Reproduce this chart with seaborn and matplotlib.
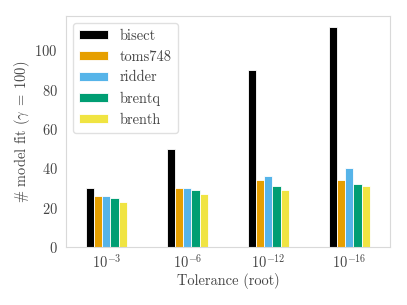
import pandas as pd
import matplotlib
matplotlib.use("Agg")
import matplotlib.pyplot as plt
import seaborn as sns

# Dados
tolerancias = [r"$10^{-3}$", r"$10^{-6}$", r"$10^{-12}$", r"$10^{-16}$"]
metodos = ["bisect", "toms748", "ridder", "brentq", "brenth"]
bisect = [30, 50, 90, 112]
toms748 = [26, 30, 34, 34]
ridder = [26, 30, 36, 40]
brentq = [25, 29, 31, 32]
brenth = [23, 27, 29, 31]
cores = ["#000000", "#E69F00", "#56B4E9", "#009E73", "#F0E442"]

valores = {"bisect": bisect, "toms748": toms748, "ridder": ridder,
           "brentq": brentq, "brenth": brenth}
linhas = []
for m in metodos:
    for t, v in zip(tolerancias, valores[m]):
        linhas.append({"tol": t, "metodo": m, "n": v})
df = pd.DataFrame(linhas)

sns.set_style("white")
plt.rcParams["font.family"] = ["cmr10"]
plt.rcParams["mathtext.fontset"] = "cm"
plt.rcParams["axes.formatter.use_mathtext"] = True
plt.rcParams["axes.edgecolor"] = "#d9d9d9"
plt.rcParams["text.color"] = "#444444"
plt.rcParams["xtick.color"] = "#444444"
plt.rcParams["ytick.color"] = "#444444"
plt.rcParams["axes.labelcolor"] = "#444444"

fs = 10.4
fig, ax = plt.subplots(figsize=(4.07, 3.05), dpi=100)
sns.barplot(data=df, x="tol", y="n", hue="metodo", hue_order=metodos,
            palette=cores, saturation=1, width=0.5, edgecolor="white",
            linewidth=0.6, ax=ax)
ax.set_xlabel("Tolerance (root)", fontsize=fs, labelpad=1.5)
ax.set_ylabel(r"# model fit ($\gamma \;=\; 100$)", fontsize=fs, labelpad=1.5)
ax.tick_params(axis="y", labelsize=fs, length=0, pad=6)
ax.tick_params(axis="x", labelsize=fs, length=0, pad=4)
ax.set_yticks([0, 20, 40, 60, 80, 100])
ax.legend(loc="upper left", fontsize=fs, handlelength=2.0, handleheight=0.6,
          handletextpad=0.83, edgecolor="#d9d9d9")
plt.subplots_adjust(left=0.162, right=0.958, top=0.948, bottom=0.19)
plt.savefig("out.png")
